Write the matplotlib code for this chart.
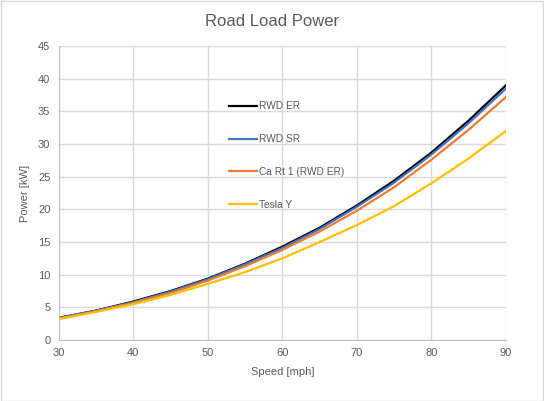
import matplotlib.pyplot as plt
from matplotlib.patches import Rectangle

# Data
speed = [30, 35, 40, 45, 50, 55, 60, 65, 70, 75, 80, 85, 90]
rwd_er = [3.4, 4.5, 5.9, 7.5, 9.4, 11.7, 14.3, 17.2, 20.6, 24.4, 28.7, 33.6, 39.0]
rwd_sr = [3.4, 4.5, 5.8, 7.4, 9.3, 11.6, 14.1, 17.0, 20.4, 24.1, 28.4, 33.2, 38.5]
ca_rt1 = [3.3, 4.4, 5.7, 7.2, 9.1, 11.3, 13.8, 16.6, 19.8, 23.4, 27.6, 32.2, 37.2]
tesla_y = [3.2, 4.3, 5.5, 6.9, 8.6, 10.4, 12.5, 15.0, 17.6, 20.5, 24.0, 27.8, 32.0]

series = [
    ('RWD ER', rwd_er, '#000000'),
    ('RWD SR', rwd_sr, '#4472C4'),
    ('Ca Rt 1 (RWD ER)', ca_rt1, '#ED7D31'),
    ('Tesla Y', tesla_y, '#FFC000'),
]

text_col = '#595959'
grid_col = '#D9D9D9'

plt.rcParams['font.family'] = ['Liberation Sans', 'DejaVu Sans']

fig = plt.figure(figsize=(5.44, 4.01), dpi=100)
ax = fig.add_axes([0.108, 0.152, 0.822, 0.733])

for label, vals, col in series:
    ax.plot(speed, vals, color=col, linewidth=1.6, label=label)

ax.set_xlim(30, 90)
ax.set_ylim(0, 45)
ax.set_xticks(range(30, 91, 10))
ax.set_yticks(range(0, 46, 5))
ax.grid(True, color=grid_col, linewidth=1)
ax.set_axisbelow(True)
for s in ['top', 'right']:
    ax.spines[s].set_visible(False)
for s in ['left', 'bottom']:
    ax.spines[s].set_color('#BFBFBF')
ax.tick_params(length=0, labelsize=8, colors=text_col, pad=6)

ax.set_xlabel('Speed [mph]', fontsize=8, color=text_col, labelpad=6)
ax.set_ylabel('Power [kW]', fontsize=8, color=text_col, labelpad=6)
fig.suptitle('Road Load Power', fontsize=12, color=text_col, y=0.965)

leg = ax.legend(loc='upper left', bbox_to_anchor=(0.405, 0.77), bbox_transform=fig.transFigure,
                frameon=False, fontsize=7.3, labelspacing=2.25, handlelength=2.7,
                handletextpad=0.25, labelcolor=text_col)

fig.patches.append(Rectangle((0.001, 0.001), 0.997, 0.997, transform=fig.transFigure,
                             fill=False, edgecolor='#D9D9D9', linewidth=1))

fig.savefig('out.png', dpi=100)
